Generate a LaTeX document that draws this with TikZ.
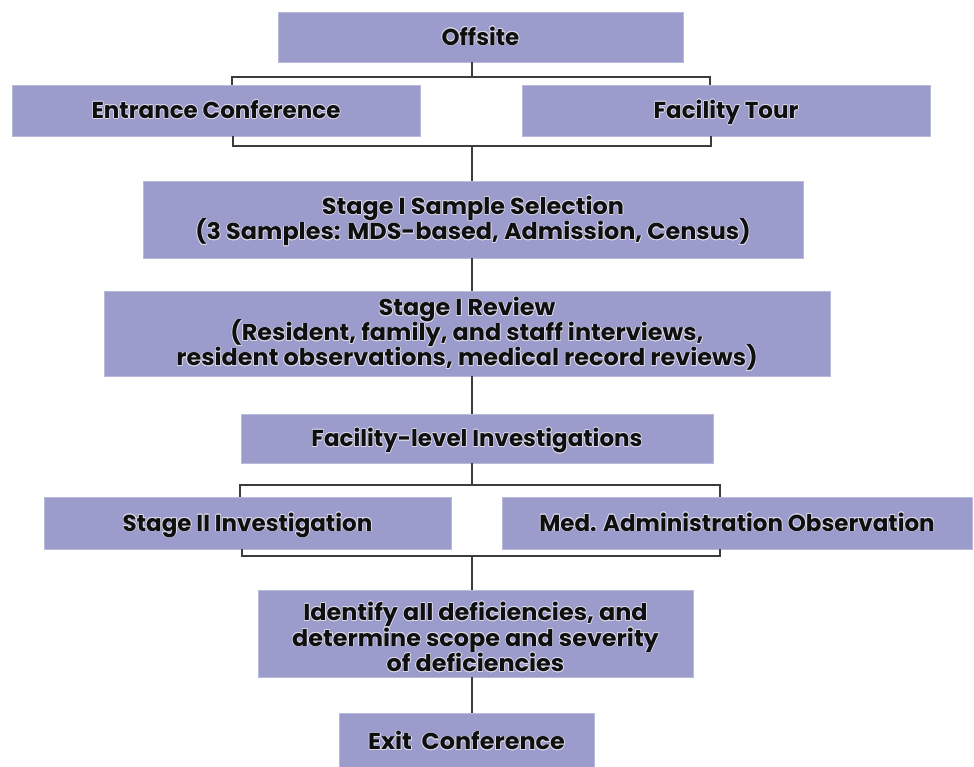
\documentclass[tikz,border=0pt]{standalone}
\usepackage{fontspec}
\usepackage{contour}
\setmainfont{Poppins}
\newfontfamily\widefont{Poppins}[FakeStretch=1.04]
\newfontfamily\narrowfont{Poppins}[FakeStretch=1.0]
\definecolor{boxfill}{RGB}{155,155,204}
\definecolor{linecol}{RGB}{60,60,60}
\definecolor{txt}{RGB}{15,15,15}
\definecolor{halo}{RGB}{215,215,232}
\contourlength{0.7pt}
\contournumber{16}
% one line of box text with a light halo round the letters
\newcommand{\hl}[1]{\contour{halo}{#1}}
% invisible strut that lowers a block of lines a little
\newcommand{\dropstrut}[1]{\rule{0pt}{#1}}
% keep the baseline distance fixed even with tall glyphs
\newcommand{\tightlines}{\lineskiplimit=-20pt\relax\lineskip=0pt\relax}
\tikzset{
  box/.style={fill=boxfill, draw=boxfill!70!white, line width=0.6pt, inner sep=0pt,
    align=center, text=txt,
    font=\widefont\bfseries\fontsize{23}{25.5}\selectfont\tightlines},
  narrow/.style={font=\narrowfont\bfseries\fontsize{23}{25}\selectfont,
    text height=18pt, text depth=2pt},
  conn/.style={draw=linecol, line width=1.6pt}
}
\begin{document}
\begin{tikzpicture}[x=1pt,y=-1pt]
\useasboundingbox (0,0) rectangle (974,766);
\fill[white] (0,0) rectangle (974,766);

% boxes: centre, width, height
\node[box,narrow,minimum width=405pt,minimum height=50pt] (offsite) at (480.5,37) {\hl{Offsite}};
\node[box,narrow,minimum width=408pt,minimum height=51pt] (entrance) at (216,110.5) {\hl{Entrance Conference}};
\node[box,narrow,minimum width=408pt,minimum height=51pt] (tour) at (726,110.5) {\hl{Facility Tour}};
\node[box,minimum width=660pt,minimum height=77pt] (sample) at (473,219.5)
  {\dropstrut{22pt}\hl{Stage I Sample Selection}\\\hl{(3 Samples: MDS-based, Admission, Census)}};
\node[box,minimum width=726pt,minimum height=85pt,
      font=\widefont\bfseries\fontsize{23}{25}\selectfont\tightlines] (review) at (467,333.5)
  {\dropstrut{20pt}\hl{Stage I Review}\\\hl{(Resident, family, and staff interviews,}\\\hl{resident observations, medical record reviews)}};
\node[box,narrow,minimum width=472pt,minimum height=49pt] (facility) at (477,438.5) {\hl{Facility-level Investigations}};
\node[box,narrow,minimum width=407pt,minimum height=52pt] (stage2) at (247.5,523) {\hl{Stage II Investigation}};
\node[box,narrow,minimum width=470pt,minimum height=52pt] (medobs) at (737,523) {\hl{Med. Administration Observation}};
\node[box,minimum width=435pt,minimum height=87pt] (identify) at (475.5,633.5)
  {\dropstrut{26pt}\hl{Identify all deficiencies, and}\\\hl{determine scope and severity}\\\hl{of deficiencies}};
\node[box,minimum width=255pt,minimum height=56pt] (exit) at (466.5,741) {\hl{Exit\hspace{0.2em} Conference}};

% junction points of the connectors
\coordinate (t1) at (472,77);  \coordinate (t1l) at (232,77);  \coordinate (t1r) at (710,77);
\coordinate (b1) at (472,146); \coordinate (b1l) at (233,146); \coordinate (b1r) at (711,146);
\coordinate (t2) at (472,485); \coordinate (t2l) at (240,485); \coordinate (t2r) at (720,485);
\coordinate (b2) at (472,556); \coordinate (b2l) at (242,556); \coordinate (b2r) at (720,556);

% Offsite splits into the two parallel steps
\draw[conn] (t1 |- offsite.south) -- (t1);
\draw[conn] (t1l |- entrance.north) -- (t1l) -- (t1r) -- (t1r |- tour.north);
\draw[conn] (b1l |- entrance.south) -- (b1l) -- (b1r) -- (b1r |- tour.south);
\draw[conn] (b1) -- (b1 |- sample.north);

% the straight chain
\draw[conn] (t1 |- sample.south) -- (t1 |- review.north);
\draw[conn] (t1 |- review.south) -- (t1 |- facility.north);

% Facility-level investigations split and join again
\draw[conn] (t2 |- facility.south) -- (t2);
\draw[conn] (t2l |- stage2.north) -- (t2l) -- (t2r) -- (t2r |- medobs.north);
\draw[conn] (b2l |- stage2.south) -- (b2l) -- (b2r) -- (b2r |- medobs.south);
\draw[conn] (b2) -- (b2 |- identify.north);
\draw[conn] (t1 |- identify.south) -- (t1 |- exit.north);
\end{tikzpicture}
\end{document}
